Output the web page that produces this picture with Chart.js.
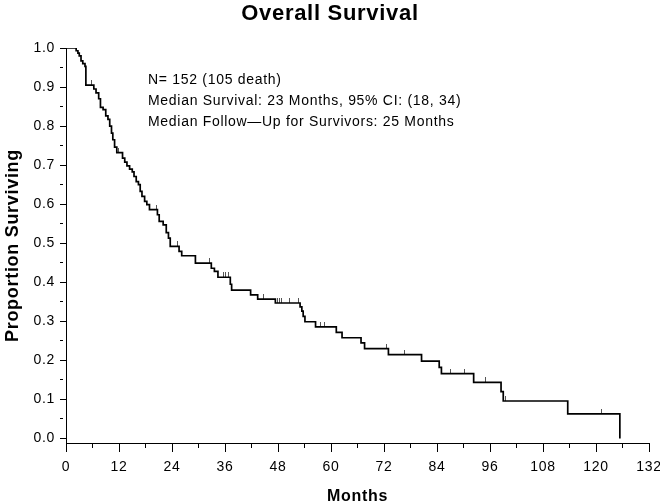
<!DOCTYPE html>
<html>
<head>
<meta charset="utf-8">
<script src="https://cdn.jsdelivr.net/npm/chart.js@4.4.1/dist/chart.umd.min.js"></script>
<style>
  html, body { margin: 0; padding: 0; background: #fff; }
  #c { display: block; }
</style>
</head>
<body>
<canvas id="c" width="660" height="504"></canvas>
<script>
// ---- Data (Kaplan-Meier, months) ----
const deathMonths = [0, 2.3, 2.7, 3.0, 3.4, 3.8, 4.3, 4.5, 6.3, 6.8, 7.4, 7.8, 8.4, 9.0, 9.5, 9.9,
  10.3, 10.6, 11.0, 11.5, 12.8, 13.3, 13.8, 14.4, 15.0, 15.4, 15.9, 16.4, 16.8, 17.2, 17.8, 18.3,
  18.9, 20.7, 21.1, 22.0, 22.7, 23.2, 23.6, 25.6, 26.2, 29.3, 32.9, 33.6, 34.4, 37.2, 37.5, 41.8,
  43.4, 47.4, 53.0, 53.4, 53.7, 54.1, 56.5, 61.2, 62.5, 66.8, 67.6, 73.0, 80.5, 84.5, 85.0, 92.3,
  98.5, 99.0, 113.6, 125.4];
const survival = [1.0, 0.993, 0.987, 0.980, 0.967, 0.960, 0.953, 0.905, 0.895, 0.885, 0.870, 0.848,
  0.842, 0.826, 0.817, 0.800, 0.782, 0.765, 0.746, 0.732, 0.718, 0.708, 0.698, 0.690, 0.683, 0.671,
  0.658, 0.650, 0.633, 0.620, 0.607, 0.599, 0.586, 0.573, 0.556, 0.547, 0.527, 0.513, 0.492, 0.479,
  0.468, 0.449, 0.436, 0.428, 0.413, 0.395, 0.380, 0.368, 0.357, 0.347, 0.337, 0.326, 0.313, 0.299,
  0.286, 0.272, 0.258, 0.245, 0.230, 0.215, 0.198, 0.182, 0.166, 0.144, 0.120, 0.096, 0.063, 0.0];
const censorMonths = [5.8, 11.8, 16.0, 20.5, 25.2, 32.6, 35.6, 36.1, 36.7, 44.7, 47.9, 48.4, 48.9,
  50.7, 52.6, 57.7, 58.6, 72.5, 76.7, 87.1, 90.3, 95.0, 99.4, 121.3];
const xTickValues = [0, 6, 12, 18, 24, 30, 36, 42, 48, 54, 60, 66, 72, 78, 84, 90, 96, 102, 108, 114, 120, 126, 132];
const yTickValues = [0, 0.05, 0.1, 0.15, 0.2, 0.25, 0.3, 0.35, 0.4, 0.45, 0.5, 0.55, 0.6, 0.65, 0.7, 0.75, 0.8, 0.85, 0.9, 0.95, 1.0];
const titleText = 'Overall Survival';
const xTitle = 'Months';
const yTitle = 'Proportion Surviving';
const noteLines = [
  'N= 152 (105 death)',
  'Median Survival: 23 Months, 95% CI: (18, 34)',
  'Median Follow\u2014Up for Survivors: 25 Months'
];

// ---- build datasets from the arrays ----
const curve = deathMonths.map((m, i) => ({ x: m, y: survival[i] }));
function survAt(t) {
  let s = 1;
  for (let i = 0; i < deathMonths.length; i++) { if (deathMonths[i] <= t) s = survival[i]; }
  return s;
}
const censors = censorMonths.map(m => ({ x: m, y: survAt(m) }));

// censor tick glyph: short vertical mark rising above the curve
const tickImg = document.createElement('canvas');
tickImg.width = 1; tickImg.height = 10;
const tctx = tickImg.getContext('2d');
tctx.fillStyle = '#555';
tctx.fillRect(0, 0, 1, 5);

Chart.defaults.font.family = "'Liberation Sans', Arial, Helvetica, sans-serif";
Chart.defaults.color = '#000';

const spacingPlugin = {
  id: 'spacing',
  beforeDraw(chart) {
    try { chart.ctx.letterSpacing = '0.7px'; } catch (e) {}
  }
};

const notePlugin = {
  id: 'notes',
  afterDatasetsDraw(chart) {
    const ctx = chart.ctx;
    ctx.save();
    ctx.fillStyle = '#000';
    ctx.font = "14px 'Liberation Sans', Arial, sans-serif";
    try { ctx.letterSpacing = '0.7px'; } catch (e) {}
    ctx.textAlign = 'left';
    ctx.textBaseline = 'middle';
    noteLines.forEach((t, i) => ctx.fillText(t, 148, 80 + i * 21.2));
    ctx.restore();
  }
};

new Chart(document.getElementById('c'), {
  type: 'line',
  data: {
    datasets: [
      {
        data: curve,
        stepped: 'before',
        borderColor: '#000',
        borderWidth: 1.7,
        pointRadius: 0,
        fill: false
      },
      {
        type: 'scatter',
        data: censors,
        pointStyle: tickImg,
        pointRadius: 5,
        showLine: false
      }
    ]
  },
  options: {
    responsive: false,
    animation: false,
    devicePixelRatio: 1,
    layout: { padding: { left: 11, right: 11, top: 0, bottom: 0 } },
    plugins: {
      legend: { display: false },
      tooltip: { enabled: false },
      title: {
        display: true,
        text: titleText,
        color: '#000',
        font: { size: 22, weight: 'bold' },
        padding: { top: 1, bottom: 20.6 }
      }
    },
    scales: {
      x: {
        type: 'linear',
        min: 0,
        max: 132,
        afterBuildTicks: (axis) => { axis.ticks = xTickValues.map(v => ({ value: v })); },
        afterFit: (axis) => { axis.height = 61; axis.paddingLeft = 0; axis.paddingRight = 0; },
        ticks: {
          autoSkip: false,
          maxRotation: 0,
          padding: 7,
          font: { size: 14 },
          callback: (v) => (v % 12 === 0 ? String(v) : '')
        },
        grid: {
          drawOnChartArea: false,
          drawTicks: true,
          tickLength: 9,
          tickColor: '#000',
          tickWidth: 1,
          tickBorderDash: (ctx) => (ctx.tick && ctx.tick.value % 12 !== 0 ? [4, 40] : [])
        },
        border: { display: true, color: '#000', width: 1 },
        title: {
          display: true,
          text: xTitle,
          color: '#000',
          font: { size: 16, weight: 'bold' },
          padding: { top: 0, bottom: -2 }
        }
      },
      y: {
        type: 'linear',
        min: -0.0115,
        max: 1.0,
        afterBuildTicks: (axis) => { axis.ticks = yTickValues.map(v => ({ value: v })); },
        afterFit: (axis) => { axis.width = 55; axis.paddingTop = 0; axis.paddingBottom = 0; },
        ticks: {
          autoSkip: false,
          padding: 5,
          font: { size: 14 },
          callback: (v) => (Math.round(v * 100) % 10 === 0 ? v.toFixed(1) : '')
        },
        grid: {
          drawOnChartArea: false,
          drawTicks: true,
          tickLength: 6,
          tickColor: '#000',
          tickWidth: 1,
          tickBorderDash: (ctx) => (ctx.tick && Math.round(ctx.tick.value * 100) % 10 !== 0 ? [3, 40] : [])
        },
        border: { display: true, color: '#000', width: 1 },
        title: {
          display: true,
          text: yTitle,
          color: '#000',
          font: { size: 18, weight: 'bold' },
          padding: { top: -9, bottom: 0 }
        }
      }
    }
  },
  plugins: [spacingPlugin, notePlugin]
});
</script>
</body>
</html>
